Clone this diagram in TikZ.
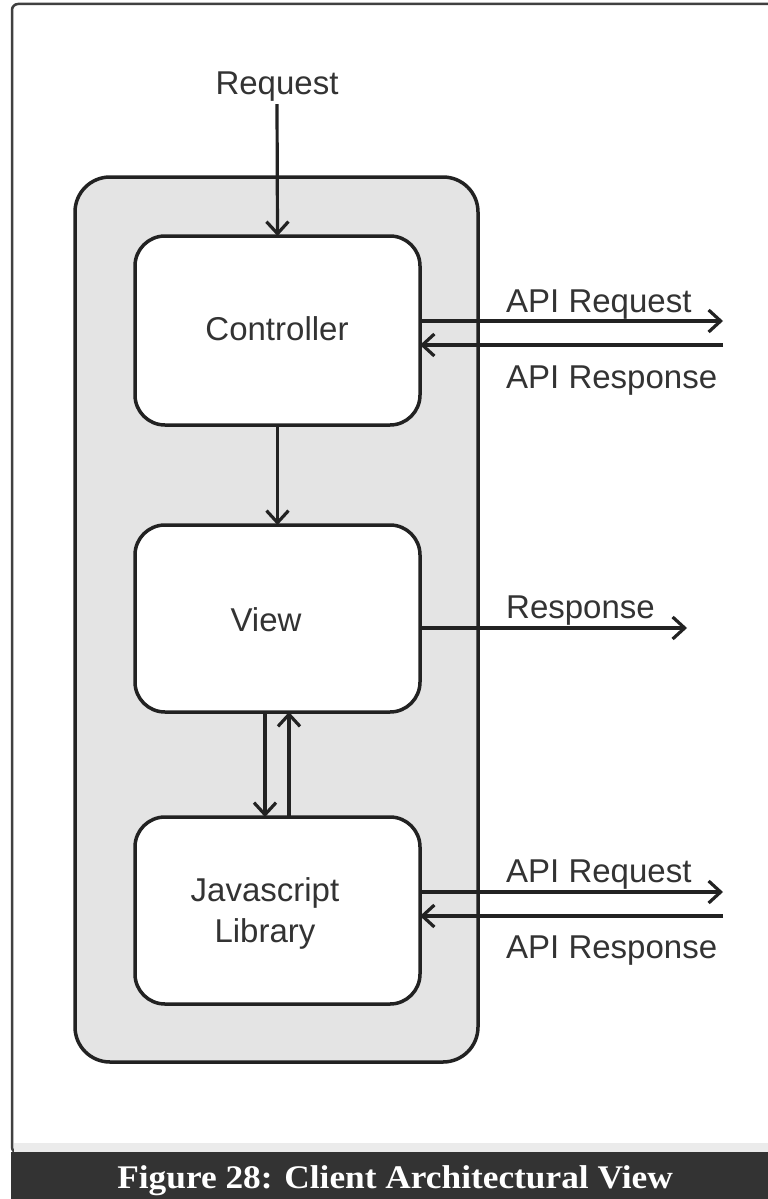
\documentclass[tikz,border=0pt]{standalone}
\usepackage{fontspec}
\setmainfont{Liberation Sans}
\newfontfamily\capfont{Liberation Serif}
\usetikzlibrary{arrows.meta}
\definecolor{ink}{HTML}{222222}
\definecolor{txt}{HTML}{333333}
\definecolor{panel}{HTML}{E4E4E4}
\definecolor{bar}{HTML}{333333}
\definecolor{strip}{HTML}{EBEBEB}
\definecolor{framecol}{HTML}{404040}

\begin{document}
\begin{tikzpicture}[x=1pt,y=-1pt,
  comp/.style={draw=ink, fill=white, line width=3.5pt, rounded corners=30pt,
    minimum width=285pt, minimum height=188pt, outer sep=0pt, inner sep=0pt},
  lbl/.style={text=txt, font=\fontsize{33}{40}\selectfont, inner sep=2pt},
  flow/.style={draw=ink, line width=3.2pt,
    -{Straight Barb[length=12pt,width=22pt]}},
]
\useasboundingbox (0,0) rectangle (768,1199);
\clip (0,0) rectangle (768,1199);
\fill[white] (0,0) rectangle (768,1199);

% page frame, bottom strip and caption bar
\draw[framecol, line width=2.5pt, fill=white, rounded corners=6pt] (12,4) rectangle (790,1153);
\fill[strip] (13.5,1143) rectangle (768,1152);
\fill[bar] (11,1152) rectangle (768,1199);
\node[text=white, inner sep=0pt, anchor=base] (caption) at (395,1188)
  {\capfont\bfseries\fontsize{33}{40}\selectfont\scalebox{1.07}[1]{Figure 28: Client Architectural View}};

% client container
\node[draw=ink, fill=panel, line width=3.5pt, rounded corners=35pt,
  minimum width=403pt, minimum height=885pt, outer sep=0pt] (client) at (276.5,619.5) {};

% components
\node[comp, minimum height=189pt] (ctrl) at (277.5,330.5) {};
\node[comp, minimum height=187pt] (view) at (277.5,618.5) {};
\node[comp, minimum height=187pt] (jslib) at (277.5,910.5) {};

\node[lbl, anchor=base] (ctrltxt) at (277,340) {Controller};
\node[lbl, anchor=base] (viewtxt) at (266,631) {View};
\node[lbl, anchor=base] (jstxt) at (265,901) {Javascript};
\node[lbl, anchor=base] (libtxt) at (265,942) {Library};

% incoming request
\node[lbl, anchor=base] (req) at (277,95) {Request};
\draw[flow] (req.south) -- (ctrl.north);

% internal flow
\draw[flow] (ctrl.south) -- (view.north);
\draw[flow] ([xshift=-12.5pt]view.south) -- ([xshift=-12.5pt]jslib.north);
\draw[flow] ([xshift=11.5pt]jslib.north) -- ([xshift=11.5pt]view.south);

% controller API calls
\coordinate (apiout1) at (723,321);
\coordinate (apiin1) at (723,345);
\draw[flow] (ctrl.east |- apiout1) -- (apiout1);
\draw[flow] (apiin1) -- (ctrl.east |- apiin1);
\node[lbl, anchor=base west] (apireq1) at (504,312) {API Request};
\node[lbl, anchor=base west] (apires1) at (504,388) {API Response};

% rendered response
\coordinate (respout) at (687,628);
\draw[flow] (view.east |- respout) -- (respout);
\node[lbl, anchor=base west] (resp) at (504,618) {Response};

% library API calls
\coordinate (apiout2) at (723,892);
\coordinate (apiin2) at (723,916);
\draw[flow] (jslib.east |- apiout2) -- (apiout2);
\draw[flow] (apiin2) -- (jslib.east |- apiin2);
\node[lbl, anchor=base west] (apireq2) at (504,882) {API Request};
\node[lbl, anchor=base west] (apires2) at (504,958) {API Response};
\end{tikzpicture}
\end{document}
